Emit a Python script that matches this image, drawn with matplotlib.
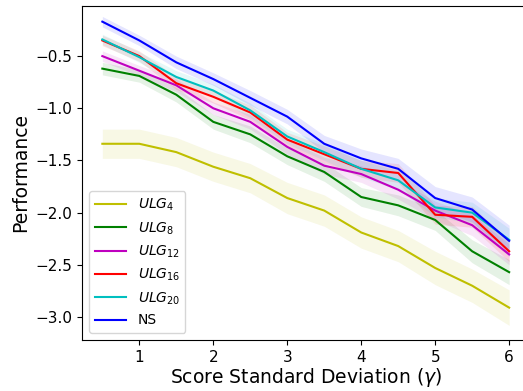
import matplotlib
matplotlib.use("Agg")
import matplotlib.pyplot as plt
import numpy as np

gamma = [0.5, 1.0, 1.5, 2.0, 2.5, 3.0, 3.5, 4.0, 4.5, 5.0, 5.5, 6.0]

labels = ["$ULG_4$", "$ULG_8$", "$ULG_{12}$", "$ULG_{16}$", "$ULG_{20}$", "NS"]
colors = ["y", "g", "m", "r", "c", "b"]

ulg4 = [-1.34, -1.34, -1.42, -1.56, -1.67, -1.86, -1.98, -2.19, -2.32, -2.53, -2.70, -2.91]
ulg8 = [-0.62, -0.69, -0.87, -1.13, -1.25, -1.46, -1.61, -1.85, -1.93, -2.07, -2.37, -2.57]
ulg12 = [-0.50, -0.64, -0.78, -1.00, -1.13, -1.37, -1.55, -1.63, -1.78, -1.98, -2.12, -2.40]
ulg16 = [-0.35, -0.50, -0.76, -0.89, -1.04, -1.30, -1.44, -1.58, -1.62, -2.02, -2.04, -2.37]
ulg20 = [-0.34, -0.51, -0.70, -0.83, -1.02, -1.27, -1.42, -1.58, -1.69, -1.95, -2.00, -2.26]
ns = [-0.17, -0.35, -0.56, -0.72, -0.90, -1.08, -1.34, -1.48, -1.58, -1.86, -1.97, -2.27]

std4 = [0.14, 0.14, 0.14, 0.14, 0.14, 0.15, 0.15, 0.15, 0.15, 0.16, 0.16, 0.17]
std8 = [0.06, 0.06, 0.07, 0.07, 0.08, 0.08, 0.09, 0.09, 0.10, 0.10, 0.11, 0.12]
std12 = [0.05, 0.05, 0.06, 0.06, 0.07, 0.07, 0.08, 0.08, 0.09, 0.09, 0.10, 0.10]
std16 = [0.05, 0.05, 0.06, 0.06, 0.07, 0.07, 0.08, 0.08, 0.09, 0.09, 0.10, 0.10]
std20 = [0.05, 0.05, 0.06, 0.06, 0.07, 0.07, 0.08, 0.08, 0.09, 0.09, 0.10, 0.11]
stdns = [0.05, 0.05, 0.06, 0.06, 0.07, 0.07, 0.08, 0.09, 0.10, 0.11, 0.12, 0.15]

means = [ulg4, ulg8, ulg12, ulg16, ulg20, ns]
stds = [std4, std8, std12, std16, std20, stdns]

fig = plt.figure(figsize=(5.23, 3.91), dpi=100)
ax = fig.add_axes([82 / 523, 51 / 391, 447.5 / 523, 334 / 391])

x = np.array(gamma)
for m, s, c, lab in zip(means, stds, colors, labels):
    m = np.array(m)
    s = np.array(s)
    ax.plot(x, m, color=c, lw=1.5, label=lab)
    ax.fill_between(x, m - s, m + s, color=c, alpha=0.1, lw=0)

ax.set_xlim(0.225, 6.275)
ax.set_ylim(-3.22, -0.02)
ax.set_yticks([-3.0, -2.5, -2.0, -1.5, -1.0, -0.5])
ax.set_xticks([1, 2, 3, 4, 5, 6])
ax.tick_params(labelsize=11)
ax.set_xlabel(r"Score Standard Deviation ($\gamma$)", fontsize=13.5, labelpad=1)
ax.set_ylabel("Performance", fontsize=13.5)
ax.legend(loc="lower left", fontsize=10, handlelength=2.3)

fig.savefig("out.png", dpi=100)
